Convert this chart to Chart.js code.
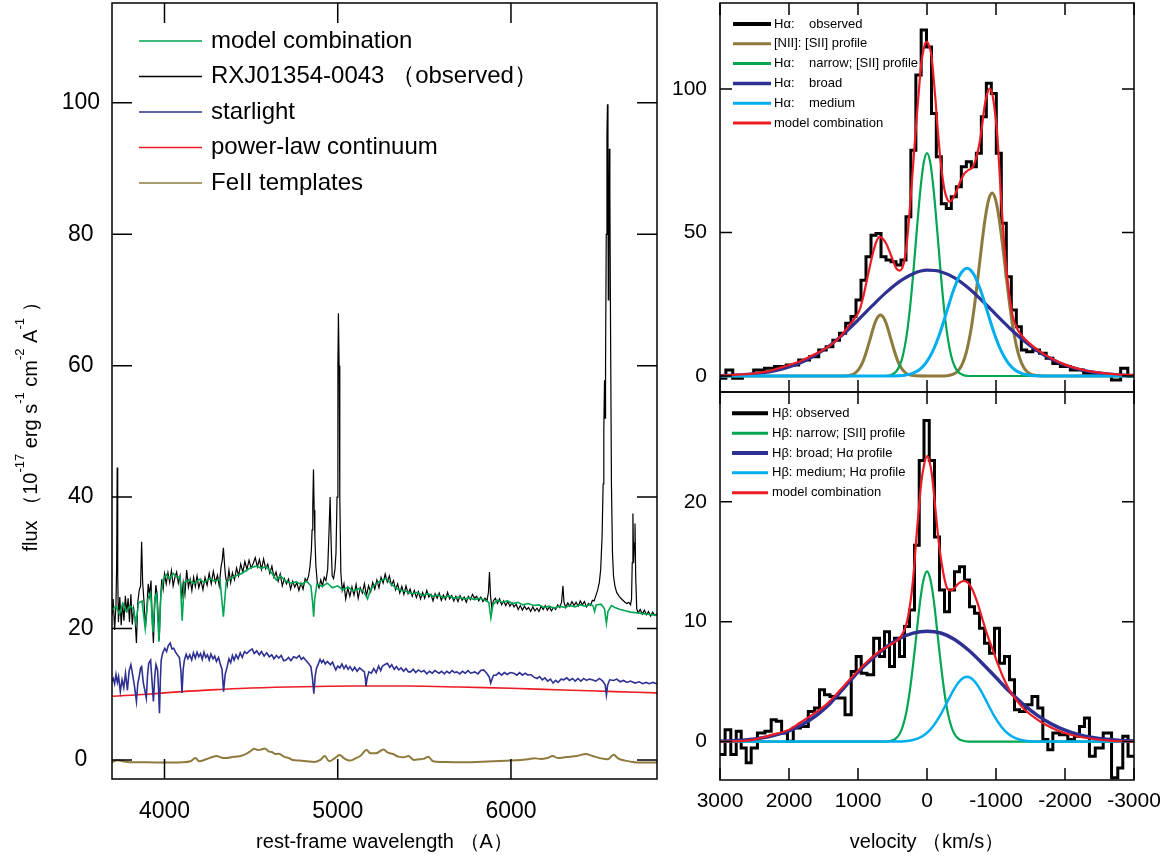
<!DOCTYPE html>
<html>
<head>
<meta charset="utf-8">
<script src="https://cdn.jsdelivr.net/npm/chart.js@4.4.0/dist/chart.umd.min.js"></script>
<style>
  html, body { margin: 0; padding: 0; background: #fff; }
  body { width: 1174px; height: 860px; position: relative; overflow: hidden; }
  canvas { position: absolute; }
  #spec { left: 0; top: 0; }
  #ha { left: 660px; top: 0; }
  #hb { left: 660px; top: 380px; }
</style>
</head>
<body>
<canvas id="spec" width="665" height="860"></canvas>
<canvas id="ha" width="514" height="400"></canvas>
<canvas id="hb" width="514" height="480"></canvas>
<script>
// ---- left panel: full spectrum ----
const wlTicks = [4000, 5000, 6000];
const fluxTicks = [0, 20, 40, 60, 80, 100];

const obsWl = [
  3697, 3704, 3712, 3720, 3724, 3727, 3730, 3734, 3742, 3750,
  3758, 3766, 3774, 3782, 3790, 3798, 3806, 3814, 3822, 3830,
  3838, 3846, 3854, 3862, 3868, 3874, 3882, 3890, 3898, 3906,
  3914, 3922, 3930, 3936, 3942, 3950, 3958, 3964, 3970, 3976,
  3984, 3992, 4000, 4010, 4020, 4030, 4040, 4050, 4060, 4070,
  4080, 4090, 4100, 4108, 4118, 4128, 4138, 4148, 4158, 4168,
  4178, 4188, 4198, 4210, 4222, 4234, 4246, 4258, 4270, 4282,
  4294, 4306, 4316, 4326, 4334, 4340, 4346, 4352, 4362, 4372,
  4382, 4392, 4404, 4416, 4428, 4440, 4452, 4464, 4476, 4488,
  4500, 4512, 4524, 4536, 4548, 4560, 4572, 4584, 4596, 4608,
  4620, 4632, 4644, 4656, 4668, 4680, 4692, 4704, 4716, 4728,
  4740, 4752, 4764, 4776, 4788, 4800, 4812, 4822, 4832, 4840,
  4848, 4852, 4856, 4860, 4864, 4868, 4874, 4882, 4892, 4902,
  4912, 4922, 4932, 4942, 4950, 4956, 4962, 4968, 4976, 4984,
  4990, 4996, 5001, 5004, 5008, 5012, 5018, 5026, 5036, 5046,
  5058, 5070, 5082, 5094, 5106, 5118, 5130, 5142, 5154, 5166,
  5178, 5190, 5202, 5214, 5226, 5238, 5250, 5262, 5274, 5286,
  5298, 5310, 5322, 5334, 5346, 5358, 5370, 5382, 5394, 5406,
  5418, 5430, 5442, 5454, 5466, 5478, 5490, 5502, 5514, 5526,
  5538, 5550, 5562, 5574, 5586, 5598, 5610, 5622, 5634, 5646,
  5658, 5670, 5682, 5694, 5706, 5718, 5730, 5742, 5754, 5766,
  5778, 5790, 5802, 5814, 5826, 5838, 5850, 5862, 5870, 5876,
  5882, 5890, 5898, 5910, 5922, 5934, 5946, 5958, 5970, 5982,
  5994, 6006, 6018, 6030, 6042, 6054, 6066, 6078, 6090, 6102,
  6114, 6126, 6138, 6150, 6162, 6174, 6186, 6198, 6210, 6222,
  6234, 6246, 6258, 6270, 6282, 6292, 6300, 6306, 6316, 6328,
  6340, 6352, 6364, 6376, 6388, 6400, 6412, 6424, 6436, 6448,
  6460, 6470, 6480, 6490, 6500, 6510, 6518, 6526, 6532, 6536,
  6540, 6543, 6546, 6550, 6554, 6557, 6560, 6562, 6565, 6568,
  6571, 6575, 6580, 6586, 6592, 6600, 6610, 6622, 6634, 6646,
  6658, 6670, 6680, 6690, 6696, 6700, 6704, 6708, 6712, 6716,
  6720, 6726, 6734, 6746, 6758, 6770, 6782, 6794, 6806, 6818,
  6830, 6843
];
const obsFlux = [
  22.0, 24.5, 19.8, 23.5, 30.0, 44.5, 28.0, 21.0, 24.8, 20.5,
  23.9, 21.2, 25.0, 22.4, 24.6, 21.0, 25.2, 20.6, 23.0, 21.5,
  17.8, 24.0, 25.8, 26.5, 33.2, 27.0, 24.0, 20.2, 23.0, 26.8,
  25.0, 27.3, 21.0, 17.8, 22.5, 26.6, 25.0, 21.5, 18.3, 23.8,
  27.5, 26.0, 28.3, 26.8, 28.5, 27.0, 28.8, 26.5, 27.8, 28.6,
  26.9, 28.0, 24.5, 27.0, 25.2, 28.9, 26.3, 27.5, 25.8, 27.8,
  26.4, 28.0, 26.2, 27.4, 25.9, 27.8, 26.6, 28.4, 26.8, 28.7,
  27.0, 28.1, 26.5, 29.3, 30.5, 32.3, 30.0, 28.0, 26.6, 28.9,
  27.0, 28.5, 27.4, 29.2, 28.0, 29.8, 28.6, 30.2, 29.0, 30.4,
  29.2, 29.9, 30.8, 29.4, 30.5, 29.0, 30.6, 29.1, 29.8, 28.4,
  29.5, 27.8, 28.6, 27.2, 28.3, 26.5, 27.6, 26.8, 27.5, 26.0,
  27.2, 26.3, 27.0, 25.8, 26.9, 26.0, 27.6, 27.2, 28.0, 29.5,
  32.0, 35.0, 38.5, 44.2, 38.0, 34.0, 29.5, 27.0, 26.2, 27.4,
  26.5, 27.8, 27.3, 29.0, 35.0, 40.0, 33.0, 28.0, 27.6, 29.0,
  31.5, 40.0, 60.0, 68.0, 60.0, 40.0, 28.5, 25.8, 26.8, 24.5,
  26.2, 24.9, 26.3, 25.1, 26.7, 24.6, 26.2, 25.4, 26.8, 25.0,
  26.5, 25.6, 27.0, 26.0, 27.4, 26.2, 27.8, 26.9, 28.3, 27.1,
  28.0, 26.6, 27.3, 25.9, 26.8, 25.4, 26.4, 25.2, 26.5, 25.3,
  26.0, 24.9, 25.8, 24.7, 25.6, 24.5, 25.5, 24.6, 25.8, 24.8,
  25.2, 24.2, 25.3, 24.6, 25.4, 24.3, 25.1, 24.4, 25.5, 24.5,
  25.0, 24.2, 24.9, 24.1, 25.0, 24.3, 24.8, 24.0, 24.9, 24.4,
  25.2, 24.6, 24.9, 24.2, 24.8, 24.1, 24.6, 24.3, 25.5, 28.6,
  25.0, 23.0, 24.2, 24.6, 23.8, 24.5, 23.6, 24.2, 23.5, 24.1,
  23.4, 23.9, 23.3, 23.7, 22.9, 23.5, 22.8, 23.4, 22.9, 23.2,
  22.6, 23.3, 22.7, 23.1, 22.6, 23.4, 22.9, 23.5, 22.8, 23.3,
  22.7, 23.2, 22.9, 23.6, 23.2, 24.0, 26.5, 24.0, 23.2, 23.9,
  23.4, 24.1, 23.5, 24.0, 23.4, 24.2, 23.6, 24.1, 23.3, 23.8,
  23.5, 24.3, 24.2, 25.0, 25.8, 27.0, 29.0, 34.0, 42.0, 50.0,
  57.8, 52.0, 60.0, 80.0, 95.0, 99.8, 85.0, 70.0, 80.0, 93.0,
  86.0, 65.0, 42.0, 31.5, 28.0, 26.5, 25.5, 25.0, 24.6, 24.3,
  24.0, 23.8, 24.0, 23.6, 24.5, 30.0, 37.5, 30.0, 33.0, 36.0,
  28.0, 23.0, 22.4, 22.9, 22.2, 22.8, 22.1, 22.6, 21.9, 22.5,
  22.0, 22.3
];

const modelWl = [
  3697, 3720, 3740, 3760, 3780, 3800, 3820, 3835, 3850, 3870,
  3889, 3905, 3920, 3933, 3945, 3955, 3968, 3980, 3995, 4010,
  4030, 4050, 4070, 4090, 4102, 4114, 4140, 4170, 4200, 4230,
  4260, 4290, 4320, 4340, 4356, 4380, 4410, 4440, 4470, 4500,
  4530, 4560, 4590, 4620, 4645, 4670, 4700, 4730, 4760, 4790,
  4820, 4845, 4855, 4861, 4867, 4880, 4910, 4940, 4970, 5000,
  5030, 5060, 5090, 5120, 5150, 5172, 5190, 5220, 5250, 5280,
  5310, 5340, 5370, 5400, 5430, 5460, 5490, 5520, 5550, 5580,
  5610, 5640, 5670, 5700, 5730, 5760, 5790, 5820, 5850, 5872,
  5884, 5896, 5920, 5950, 5980, 6010, 6040, 6070, 6100, 6130,
  6160, 6190, 6220, 6250, 6280, 6310, 6340, 6370, 6400, 6430,
  6460, 6475, 6483, 6492, 6520, 6540, 6551, 6560, 6580, 6600,
  6630, 6660, 6690, 6720, 6750, 6780, 6810, 6843
];
const modelFlux = [
  22.8, 23.4, 22.2, 23.8, 22.6, 23.5, 22.9, 20.8, 23.9, 24.2,
  20.0, 24.6, 25.5, 19.4, 24.8, 25.3, 18.0, 25.6, 27.6, 28.2,
  27.6, 28.4, 27.8, 27.9, 21.2, 27.0, 27.4, 26.8, 27.5, 27.0,
  27.6, 27.2, 27.5, 21.8, 27.0, 27.6, 28.0, 28.3, 28.8, 29.3,
  29.5, 29.2, 29.4, 28.4, 27.4, 28.0, 27.2, 26.9, 27.1, 26.7,
  27.2, 26.5, 24.0, 21.8, 24.5, 26.8, 26.4, 26.9, 26.2, 26.5,
  25.9, 26.3, 25.7, 26.1, 25.6, 24.5, 26.0, 26.8, 27.3, 27.6,
  26.7, 26.1, 25.8, 25.6, 25.3, 25.5, 25.0, 25.3, 24.9, 25.1,
  24.7, 25.0, 24.6, 24.8, 24.5, 24.7, 24.4, 24.6, 24.3, 24.0,
  21.6, 23.6, 24.3, 24.0, 24.2, 23.8, 24.0, 23.6, 23.8, 23.5,
  23.6, 23.2, 23.4, 23.1, 23.4, 23.2, 23.5, 23.3, 23.6, 23.4,
  23.7, 23.4, 22.6, 23.6, 23.7, 23.0, 20.8, 22.6, 23.5, 23.2,
  22.9, 22.7, 22.5, 22.4, 22.3, 22.2, 22.1, 22.0
];

const starWl = [
  3697, 3704, 3712, 3720, 3728, 3735, 3745, 3755, 3765, 3775,
  3786, 3796, 3806, 3816, 3827, 3838, 3846, 3854, 3862, 3868,
  3878, 3887, 3895, 3902, 3909, 3920, 3928, 3936, 3944, 3951,
  3960, 3966, 3971, 3976, 3981, 3990, 4002, 4012, 4022, 4033,
  4043, 4053, 4064, 4074, 4086, 4095, 4101, 4108, 4115, 4125,
  4135, 4146, 4157, 4167, 4178, 4188, 4198, 4208, 4218, 4228,
  4238, 4248, 4258, 4268, 4280, 4290, 4300, 4312, 4322, 4332,
  4341, 4350, 4362, 4372, 4382, 4392, 4402, 4413, 4425, 4437,
  4449, 4462, 4475, 4490, 4506, 4518, 4532, 4547, 4560, 4575,
  4590, 4605, 4619, 4632, 4646, 4660, 4674, 4688, 4701, 4716,
  4730, 4745, 4763, 4778, 4790, 4802, 4814, 4828, 4845, 4854,
  4862, 4870, 4878, 4886, 4898, 4908, 4917, 4928, 4940, 4958,
  4970, 4980, 4989, 5000, 5012, 5024, 5036, 5048, 5060, 5071,
  5085, 5098, 5112, 5126, 5140, 5154, 5160, 5163, 5170, 5180,
  5194, 5208, 5222, 5236, 5248, 5256, 5270, 5287, 5300, 5312,
  5326, 5339, 5352, 5366, 5380, 5394, 5408, 5421, 5436, 5450,
  5466, 5482, 5498, 5514, 5530, 5546, 5560, 5585, 5600, 5615,
  5630, 5645, 5660, 5675, 5688, 5705, 5720, 5736, 5752, 5768,
  5791, 5810, 5825, 5842, 5860, 5875, 5883, 5892, 5900, 5914,
  5930, 5946, 5962, 5978, 5996, 6017, 6034, 6050, 6066, 6082,
  6099, 6115, 6132, 6151, 6165, 6181, 6196, 6212, 6228, 6243,
  6258, 6272, 6289, 6305, 6322, 6338, 6355, 6371, 6387, 6404,
  6420, 6436, 6452, 6469, 6490, 6510, 6530, 6544, 6551, 6558,
  6570, 6593, 6610, 6630, 6650, 6670, 6690, 6716, 6740, 6760,
  6780, 6798, 6820, 6843
];
const starFlux = [
  12.0, 12.4, 11.6, 13.0, 11.8, 12.7, 10.4, 12.2, 11.0, 13.2,
  10.6, 13.6, 14.5, 13.0, 11.2, 8.9, 11.6, 12.7, 14.0, 14.2,
  11.7, 10.5, 9.4, 12.8, 14.7, 15.2, 12.0, 8.9, 12.8, 14.5,
  13.7, 10.5, 7.1, 12.0, 15.2, 16.3, 17.0, 16.5, 17.4, 17.8,
  16.9, 17.0, 16.4, 16.0, 15.6, 13.5, 10.2, 13.8, 15.2, 16.1,
  15.4, 16.0, 15.2, 16.3, 15.5, 16.4, 15.7, 16.2, 15.3, 16.4,
  15.6, 16.0, 15.2, 16.1, 15.4, 15.8, 15.0, 15.6, 14.6, 13.8,
  10.4, 13.0, 14.2, 15.4, 14.8, 15.9, 15.2, 16.0, 15.4, 16.3,
  15.6, 16.5, 16.2, 16.6, 16.9, 16.2, 16.6, 16.0, 16.5, 15.8,
  16.3, 15.7, 16.0, 15.4, 15.9, 15.5, 15.9, 15.1, 15.2, 15.6,
  15.1, 15.7, 15.5, 15.9, 15.3, 15.6, 15.2, 14.8, 14.2, 12.5,
  10.1, 12.8, 14.0, 14.5, 15.3, 14.8, 15.2, 14.6, 15.0, 14.5,
  14.9, 14.2, 13.7, 14.3, 14.0, 14.6, 13.9, 14.4, 13.8, 14.2,
  13.6, 14.1, 13.5, 14.0, 13.7, 13.4, 12.3, 11.2, 12.5, 13.4,
  13.2, 13.9, 13.3, 14.3, 13.6, 14.2, 14.5, 14.7, 14.1, 14.5,
  13.8, 14.2, 13.7, 14.0, 13.5, 13.9, 13.4, 13.4, 13.8, 13.3,
  13.7, 13.4, 13.6, 13.1, 13.5, 13.2, 13.6, 13.2, 13.5, 13.1,
  13.5, 13.2, 13.6, 13.3, 13.4, 13.1, 13.5, 13.2, 13.6, 13.2,
  13.4, 13.1, 13.6, 13.7, 13.2, 12.6, 11.7, 12.4, 12.9, 12.9,
  13.3, 12.9, 13.3, 13.0, 13.3, 13.2, 12.9, 13.3, 12.9, 13.2,
  12.9, 13.0, 12.6, 12.4, 12.7, 12.2, 12.5, 12.0, 12.3, 11.7,
  12.1, 11.8, 12.3, 12.2, 12.5, 12.1, 12.4, 12.0, 12.4, 12.0,
  12.4, 12.1, 12.3, 12.2, 12.0, 12.4, 12.0, 11.4, 9.9, 11.4,
  12.2, 12.1, 12.3, 11.9, 12.1, 11.8, 12.0, 11.7, 11.9, 11.6,
  11.8, 11.6, 11.8, 11.6
];

const plWl = [3697, 3900, 4100, 4300, 4500, 4800, 5100, 5400, 5700, 6000, 6300, 6600, 6843];
const plFlux = [9.7, 10.0, 10.4, 10.7, 10.95, 11.15, 11.25, 11.25, 11.1, 10.9, 10.65, 10.4, 10.2];

const feWl = [
  3697, 3730, 3760, 3800, 3900, 4000, 4100, 4150, 4178, 4200,
  4240, 4270, 4300, 4330, 4360, 4390, 4413, 4440, 4477, 4500,
  4517, 4540, 4560, 4580, 4600, 4620, 4640, 4660, 4690, 4720,
  4741, 4780, 4820, 4867, 4900, 4925, 4950, 4980, 5011, 5040,
  5070, 5100, 5130, 5166, 5190, 5220, 5264, 5290, 5320, 5350,
  5380, 5408, 5440, 5470, 5500, 5523, 5550, 5600, 5700, 5800,
  5900, 6000, 6060, 6100, 6137, 6170, 6210, 6241, 6270, 6320,
  6380, 6431, 6470, 6510, 6560, 6592, 6620, 6660, 6700, 6760,
  6843
];
const feFlux = [
  -0.3, -0.05, -0.2, -0.35, -0.35, -0.4, -0.35, -0.2, 0.3, -0.2,
  0.1, 0.4, 0.6, 0.35, 0.3, 0.45, 0.5, 0.6, 1.0, 1.4,
  1.7, 1.5, 1.6, 1.75, 1.3, 1.2, 0.9, 0.95, 0.5, 0.25,
  0.0, -0.1, -0.2, -0.3, 0.0, 0.6, -0.2, 0.2, 0.76, 0.2,
  -0.1, 0.2, 0.6, 1.5, 1.0, 1.0, 1.6, 1.1, 0.9, 0.5,
  0.4, 0.6, 0.0, 0.1, 0.2, 0.5, -0.2, -0.3, -0.35, -0.3,
  -0.2, -0.1, 0.0, 0.1, 0.25, 0.15, 0.3, 0.6, 0.3, 0.45,
  0.6, 0.9, 0.6, 0.3, 0.1, 0.8, 0.2, -0.1, -0.3, -0.4,
  -0.4
];

// ---- right panels: line profiles in velocity space ----
const velTicks = [3000, 2000, 1000, 0, -1000, -2000, -3000];
const haTicks = [0, 50, 100];
const hbTicks = [0, 10, 20];

const haObsV = [
  3000, 2954, 2876, 2755, 2596, 2427, 2282, 2137, 1944, 1775,
  1630, 1509, 1413, 1316, 1220, 1137, 1065, 993, 920, 848,
  775, 703, 630, 558, 485, 413, 341, 268, 200, 123,
  46, -31, -99, -171, -244, -316, -389, -461, -534, -606,
  -679, -751, -824, -896, -968, -1041, -1113, -1186, -1258, -1331,
  -1403, -1485, -1582, -1679, -1775, -1872, -1993, -2162, -2379, -2596,
  -2751, -2862, -2958, -3000
];
const haObsF = [
  -0.8, -0.8, 2.1, -0.8, 0.3, 2.1, 2.7, 3.3, 3.8, 5.6,
  6.7, 9.1, 10.2, 12.5, 14.9, 18.4, 20.7, 26.5, 33.4, 41.6,
  49.1, 49.7, 41.6, 40.4, 39.8, 38.7, 40.4, 55.5, 78.7, 104.9,
  120.6, 114.7, 91.5, 76.4, 60.0, 58.4, 62.5, 66.0, 72.9, 74.7,
  72.9, 77.6, 90.4, 102.0, 98.5, 77.6, 53.2, 34.6, 23.0, 17.2,
  9.1, 8.5, 9.1, 7.9, 6.2, 4.4, 3.3, 2.1, 0.9, 0.3,
  -1.4, 2.7, -0.2, -0.2
];

const haNiiV = [
  3000, 1200, 1074, 1024, 974, 924, 874, 824, 774, 724,
  674, 624, 574, 524, 474, 424, 374, 324, 274, 174,
  -250, -344, -394, -444, -494, -544, -594, -644, -694, -744,
  -794, -844, -894, -944, -994, -1044, -1094, -1144, -1194, -1244,
  -1294, -1344, -1394, -1444, -1494, -1544, -1700, -3000
];
const haNiiF = [
  0, 0, 0.6, 1.4, 2.9, 5.3, 8.8, 12.9, 17.1, 20.1,
  21.3, 20.1, 17.1, 12.9, 8.8, 5.3, 2.9, 1.4, 0.6, 0.1,
  0, 0.33, 0.77, 1.65, 3.3, 6.2, 10.7, 17.1, 25.6, 35.6,
  45.9, 55.1, 61.5, 63.8, 61.5, 55.1, 45.9, 35.6, 25.6, 17.1,
  10.7, 6.2, 3.3, 1.65, 0.77, 0.33, 0, 0
];

const narrowV = [3000, 600, 500, 450, 400, 350, 300, 250, 200, 150, 100, 50, 0,
  -50, -100, -150, -200, -250, -300, -350, -400, -450, -500, -600, -3000];
const haNarrowF = [0, 0, 0.6, 1.5, 3.4, 7.1, 13.4, 22.9, 35.6, 50.1, 63.9, 74.0, 77.7,
  74.0, 63.9, 50.1, 35.6, 22.9, 13.4, 7.1, 3.4, 1.5, 0.6, 0, 0];

const broadV = [3000, 2800, 2600, 2400, 2200, 2000, 1800, 1600, 1400, 1200, 1000, 800, 600, 400, 200, 0,
  -200, -400, -600, -800, -1000, -1200, -1400, -1600, -1800, -2000, -2200, -2400, -2600, -2800, -3000];
const haBroadF = [0.16, 0.31, 0.60, 1.10, 1.90, 3.16, 4.99, 7.53, 10.84, 14.88, 19.48, 24.32, 28.97, 32.91, 35.67, 36.87,
  36.35, 34.18, 30.66, 26.23, 21.41, 16.66, 12.37, 8.76, 5.92, 3.82, 2.34, 1.37, 0.77, 0.41, 0.21];

const mediumV = [3000, 520, 420, 320, 220, 120, 20, -80, -180, -280, -380, -480, -580,
  -680, -780, -880, -980, -1080, -1180, -1280, -1380, -1480, -1580, -1680, -3000];
const haMediumF = [0, 0, 0.1, 0.3, 0.84, 2.0, 4.4, 8.5, 14.5, 22.0, 29.6, 35.4, 37.6,
  35.4, 29.6, 22.0, 14.5, 8.5, 4.4, 2.0, 0.84, 0.3, 0.1, 0, 0];

const haModelV = [
  3000, 2800, 2572, 2300, 2089, 1900, 1703, 1530, 1364, 1240,
  1123, 1050, 978, 930, 881, 830, 785, 735, 688, 640,
  592, 545, 495, 445, 398, 360, 326, 290, 254, 218,
  181, 145, 109, 80, 51, 25, -2, -30, -60, -92,
  -123, -150, -181, -218, -254, -290, -326, -375, -423, -483,
  -543, -600, -664, -712, -761, -800, -833, -870, -906, -930,
  -954, -985, -1017, -1046, -1075, -1110, -1147, -1195, -1244, -1310,
  -1389, -1530, -1678, -1850, -2017, -2250, -2500, -2750, -3000
];
const haModelF = [
  0.2, 0.4, 0.7, 1.7, 3.2, 4.6, 6.7, 8.8, 11.4, 14.2,
  17.8, 20.0, 23.0, 27.0, 32.3, 38.0, 42.7, 46.8, 48.5, 47.8,
  46.2, 43.5, 40.4, 37.5, 36.7, 37.6, 40.4, 47.0, 56.7, 68.0,
  79.9, 91.5, 102.0, 109.5, 113.6, 116.0, 116.5, 115.0, 112.4, 105.0,
  96.2, 87.5, 78.7, 70.5, 64.8, 61.8, 60.7, 61.8, 64.2, 67.8,
  70.6, 71.8, 72.9, 76.0, 81.1, 87.5, 93.8, 98.2, 100.2, 99.5,
  97.3, 92.0, 84.6, 73.5, 61.3, 48.8, 38.1, 28.0, 20.7, 16.3,
  13.7, 10.5, 7.9, 5.6, 3.8, 2.2, 1.2, 0.6, 0.3
];

const hbObsV = [
  3000, 2966, 2886, 2801, 2729, 2657, 2584, 2512, 2403, 2294,
  2222, 2149, 2065, 1980, 1896, 1775, 1666, 1594, 1521, 1449,
  1364, 1244, 1133, 1063, 990, 918, 821, 725, 652, 580,
  507, 435, 362, 290, 217, 145, 80, 7, -72, -145,
  -217, -290, -362, -435, -507, -580, -652, -725, -797, -869,
  -942, -1014, -1087, -1159, -1232, -1304, -1377, -1473, -1570, -1642,
  -1715, -1787, -1860, -1980, -2101, -2173, -2246, -2318, -2390, -2487,
  -2620, -2729, -2801, -2874, -2954, -3000
];
const hbObsF = [
  -1.08, -1.08, 1.0, -1.08, 0.86, -0.53, -1.77, -0.53, 0.72, 0.86,
  1.83, 1.69, 0.72, 0.03, 1.14, 1.27, 2.52, 2.80, 4.32, 3.91,
  3.77, 3.63, 2.24, 5.85, 7.09, 5.71, 5.57, 8.62, 7.09, 9.17,
  6.26, 8.62, 7.09, 9.59, 10.97, 16.38, 23.44, 26.77, 23.44, 17.07,
  12.64, 10.83, 12.64, 14.16, 14.57, 13.47, 11.25, 10.70, 9.45, 8.20,
  7.37, 9.45, 6.54, 7.09, 5.15, 2.66, 2.52, 3.08, 3.77, 2.80,
  0.17, -0.67, 0.72, 0.58, 0.17, 0.44, 1.27, 1.97, -1.22, -0.53,
  0.72, -3.02, -2.19, 0.44, -1.22, -1.22
];
const hbNarrowF = [0, 0, 0.11, 0.27, 0.62, 1.3, 2.44, 4.2, 6.5, 9.1, 11.7, 13.5, 14.2,
  13.5, 11.7, 9.1, 6.5, 4.2, 2.44, 1.3, 0.62, 0.27, 0.11, 0, 0];
const hbBroadF = [0.04, 0.08, 0.15, 0.3, 0.55, 0.9, 1.45, 2.2, 3.2, 4.5, 5.8, 6.9, 7.85, 8.6, 9.05, 9.2,
  9.06, 8.52, 7.64, 6.54, 5.34, 4.15, 3.08, 2.19, 1.48, 0.95, 0.58, 0.34, 0.19, 0.10, 0.05];
const hbMediumF = [0, 0, 0.01, 0.04, 0.12, 0.29, 0.64, 1.22, 2.08, 3.16, 4.26, 5.09, 5.4,
  5.09, 4.26, 3.16, 2.08, 1.22, 0.64, 0.29, 0.12, 0.04, 0.01, 0, 0];
const hbModelV = [
  3000, 2572, 2234, 2000, 1847, 1650, 1461, 1290, 1123, 950,
  785, 640, 495, 420, 350, 290, 229, 190, 157, 120,
  85, 45, 0, -35, -70, -105, -142, -180, -220, -260,
  -302, -350, -398, -460, -534, -600, -664, -735, -809, -880,
  -954, -1025, -1099, -1190, -1292, -1410, -1534, -1720, -1920, -2100,
  -2306, -2644, -3000
];
const hbModelF = [
  0.0, 0.1, 0.58, 1.0, 1.55, 2.3, 3.08, 4.1, 5.15, 6.2,
  7.09, 7.7, 8.2, 8.5, 9.03, 10.0, 12.1, 14.3, 16.8, 19.3,
  21.5, 23.0, 23.8, 23.4, 22.3, 20.4, 18.2, 16.2, 14.6, 13.4,
  12.7, 12.6, 12.8, 13.2, 13.4, 13.2, 12.6, 11.5, 10.1, 8.8,
  7.65, 6.5, 5.43, 4.35, 3.49, 2.7, 2.1, 1.4, 0.86, 0.55,
  0.3, 0.08, 0.0
];

const FONT = "'Liberation Sans', Arial, Helvetica, sans-serif";
Chart.defaults.font.family = FONT;
Chart.defaults.color = '#000';

const GREEN = '#00a651', NAVY = '#2e3192', RED = '#ed1c24', CYAN = '#00aeef', OLIVE = '#8d7a3c';

const pts = (xs, ys) => xs.map((x, i) => ({ x: x, y: ys[i] }));

function series(label, xs, ys, color, width, extra) {
  return Object.assign({
    label: label, data: pts(xs, ys), borderColor: color, backgroundColor: color,
    borderWidth: width, pointRadius: 0, fill: false, tension: 0
  }, extra || {});
}

// fixed axis sizes so the plot boxes land where the figure has them
function fixedAxis(size) {
  return s => {
    if (s.isHorizontal()) s.height = size; else s.width = size;
    s.paddingLeft = s.paddingRight = s.paddingTop = s.paddingBottom = 0;
  };
}
function setTicks(values) {
  return s => { s.ticks = values.map(v => ({ value: v })); };
}

// box around the plot with tick marks pointing inwards on all four sides
const framePlugin = {
  id: 'frame',
  afterDatasetsDraw(chart, args, opts) {
    const { ctx, chartArea: a, scales } = chart;
    const L = opts.len;
    ctx.save();
    ctx.strokeStyle = '#000';
    ctx.lineWidth = opts.width;
    ctx.beginPath();
    opts.xTicks.forEach(v => {
      const px = scales.x.getPixelForValue(v);
      ctx.moveTo(px, a.bottom); ctx.lineTo(px, a.bottom - L);
      ctx.moveTo(px, a.top); ctx.lineTo(px, a.top + L);
    });
    opts.yTicks.forEach(v => {
      const py = scales.y.getPixelForValue(v);
      ctx.moveTo(a.left, py); ctx.lineTo(a.left + L, py);
      ctx.moveTo(a.right, py); ctx.lineTo(a.right - L, py);
    });
    ctx.stroke();
    ctx.strokeRect(a.left, a.top, a.right - a.left, a.bottom - a.top);
    ctx.restore();
  }
};

// legend drawn as short line samples in a column inside the plot
const keyPlugin = {
  id: 'key',
  afterDraw(chart, args, opts) {
    const { ctx, chartArea: a } = chart;
    ctx.save();
    ctx.font = opts.size + 'px ' + FONT;
    ctx.textBaseline = 'middle';
    ctx.fillStyle = '#000';
    chart.data.datasets.forEach((ds, i) => {
      const y = a.top + opts.top + i * opts.gap;
      ctx.strokeStyle = ds.borderColor;
      ctx.lineWidth = opts.widths ? opts.widths[i] : ds.borderWidth;
      ctx.beginPath();
      ctx.moveTo(a.left + opts.x0, y);
      ctx.lineTo(a.left + opts.x1, y);
      ctx.stroke();
      ctx.fillText(ds.label, a.left + opts.tx, y);
    });
    ctx.restore();
  }
};

// y title of the left panel, with raised exponents
const fluxTitle = {
  id: 'fluxTitle',
  afterDraw(chart) {
    const ctx = chart.ctx;
    const parts = [['flux （10', 0], ['-17', 1], [' erg s', 0], ['-1', 1], [' cm', 0], ['-2', 1], [' A', 0], ['-1', 1], [' ）', 0]];
    const big = '20px ' + FONT, small = '13px ' + FONT;
    ctx.save();
    let total = 0;
    parts.forEach(p => { ctx.font = p[1] ? small : big; total += ctx.measureText(p[0]).width; });
    ctx.translate(31, 422);
    ctx.rotate(-Math.PI / 2);
    ctx.fillStyle = '#000';
    ctx.textBaseline = 'middle';
    let x = -total / 2;
    parts.forEach(p => {
      ctx.font = p[1] ? small : big;
      ctx.fillText(p[0], x, p[1] ? -11 : 0);
      x += ctx.measureText(p[0]).width;
    });
    ctx.restore();
  }
};

const noGrid = { display: false, drawTicks: false };
const common = {
  responsive: false,
  animation: false,
  devicePixelRatio: 1,
  events: [],
};

new Chart(document.getElementById('spec'), {
  type: 'line',
  data: {
    datasets: [
      series('model combination', modelWl, modelFlux, GREEN, 1.6),
      series('RXJ01354-0043 （observed）', obsWl, obsFlux, '#000', 1.2),
      series('starlight', starWl, starFlux, NAVY, 1.6),
      series('power-law continuum', plWl, plFlux, RED, 1.6, { tension: 0.4 }),
      series('FeII templates', feWl, feFlux, OLIVE, 2, { cubicInterpolationMode: 'monotone' })
    ]
  },
  options: Object.assign({}, common, {
    layout: { autoPadding: false, padding: { top: 3, right: 8, bottom: 0, left: 0 } },
    scales: {
      x: {
        type: 'linear', min: 3697, max: 6843,
        grid: noGrid, border: { display: false },
        afterBuildTicks: setTicks(wlTicks),
        afterFit: fixedAxis(81),
        ticks: { font: { size: 23 }, padding: 19, maxRotation: 0, autoSkip: false, callback: v => String(v) },
        title: { display: true, text: 'rest-frame wavelength （A）', font: { size: 20 }, padding: { top: 0, bottom: 6 } }
      },
      y: {
        type: 'linear', min: -2.9, max: 115.2,
        grid: noGrid, border: { display: false },
        afterBuildTicks: setTicks(fluxTicks),
        afterFit: fixedAxis(112),
        ticks: { font: { size: 23 }, padding: 12, crossAlign: 'center', callback: v => String(v) }
      }
    },
    plugins: {
      legend: { display: false }, tooltip: { enabled: false },
      frame: { xTicks: wlTicks, yTicks: fluxTicks, len: 20, width: 1.5 },
      key: { size: 24, x0: 27, x1: 90, tx: 99, top: 38, gap: 35.5, widths: [1.6, 1.6, 1.6, 1.6, 1.6] }
    }
  }),
  plugins: [framePlugin, keyPlugin, fluxTitle]
});

new Chart(document.getElementById('ha'), {
  type: 'line',
  data: {
    datasets: [
      series('Hα:    observed', haObsV, haObsF, '#000', 3, { stepped: 'middle', order: 6 }),
      series('[NII]: [SII] profile', haNiiV, haNiiF, OLIVE, 3, { cubicInterpolationMode: 'monotone', order: 5 }),
      series('Hα:    narrow; [SII] profile', narrowV, haNarrowF, GREEN, 2.2, { cubicInterpolationMode: 'monotone', order: 4 }),
      series('Hα:    broad', broadV, haBroadF, NAVY, 3.2, { cubicInterpolationMode: 'monotone', order: 3 }),
      series('Hα:    medium', mediumV, haMediumF, CYAN, 3, { cubicInterpolationMode: 'monotone', order: 2 }),
      series('model combination', haModelV, haModelF, RED, 2.2, { cubicInterpolationMode: 'monotone', order: 1 })
    ]
  },
  options: Object.assign({}, common, {
    layout: { autoPadding: false, padding: { top: 3, right: 40, bottom: 0, left: 0 } },
    scales: {
      x: {
        type: 'linear', min: -3000, max: 3000, reverse: true,
        grid: noGrid, border: { display: false },
        afterFit: fixedAxis(8),
        ticks: { display: false }
      },
      y: {
        type: 'linear', min: -5.57, max: 130,
        grid: noGrid, border: { display: false },
        afterBuildTicks: setTicks(haTicks),
        afterFit: fixedAxis(60),
        ticks: { font: { size: 21 }, padding: 13, callback: v => String(v) }
      }
    },
    plugins: {
      legend: { display: false }, tooltip: { enabled: false },
      frame: { xTicks: velTicks, yTicks: haTicks, len: 12, width: 1.5 },
      key: { size: 13, x0: 13, x1: 51, tx: 54, top: 21, gap: 19.8, widths: [4, 3, 3, 3.5, 3, 3] }
    }
  }),
  plugins: [framePlugin, keyPlugin]
});

new Chart(document.getElementById('hb'), {
  type: 'line',
  data: {
    datasets: [
      series('Hβ: observed', hbObsV, hbObsF, '#000', 3, { stepped: 'middle', order: 5 }),
      series('Hβ: narrow; [SII] profile', narrowV, hbNarrowF, GREEN, 2.2, { cubicInterpolationMode: 'monotone', order: 4 }),
      series('Hβ: broad; Hα profile', broadV, hbBroadF, NAVY, 3.5, { cubicInterpolationMode: 'monotone', order: 3 }),
      series('Hβ: medium; Hα profile', mediumV, hbMediumF, CYAN, 2.5, { cubicInterpolationMode: 'monotone', order: 2 }),
      series('model combination', hbModelV, hbModelF, RED, 2.2, { cubicInterpolationMode: 'monotone', order: 1 })
    ]
  },
  options: Object.assign({}, common, {
    layout: { autoPadding: false, padding: { top: 12, right: 40, bottom: 0, left: 0 } },
    scales: {
      x: {
        type: 'linear', min: -3000, max: 3000, reverse: true,
        grid: noGrid, border: { display: false },
        afterBuildTicks: setTicks(velTicks),
        afterFit: fixedAxis(80),
        ticks: { font: { size: 21 }, padding: 9, maxRotation: 0, autoSkip: false, callback: v => String(v) },
        title: { display: true, text: 'velocity （km/s）', font: { size: 20 }, padding: { top: 0, bottom: 6 } }
      },
      y: {
        type: 'linear', min: -3.2, max: 29.15,
        grid: noGrid, border: { display: false },
        afterBuildTicks: setTicks(hbTicks),
        afterFit: fixedAxis(60),
        ticks: { font: { size: 21 }, padding: 13, callback: v => String(v) }
      }
    },
    plugins: {
      legend: { display: false }, tooltip: { enabled: false },
      frame: { xTicks: velTicks, yTicks: hbTicks, len: 12, width: 1.5 },
      key: { size: 13, x0: 12, x1: 48, tx: 52, top: 21.3, gap: 19.85, widths: [4, 3, 4, 3, 3] }
    }
  }),
  plugins: [framePlugin, keyPlugin]
});
</script>
</body>
</html>
